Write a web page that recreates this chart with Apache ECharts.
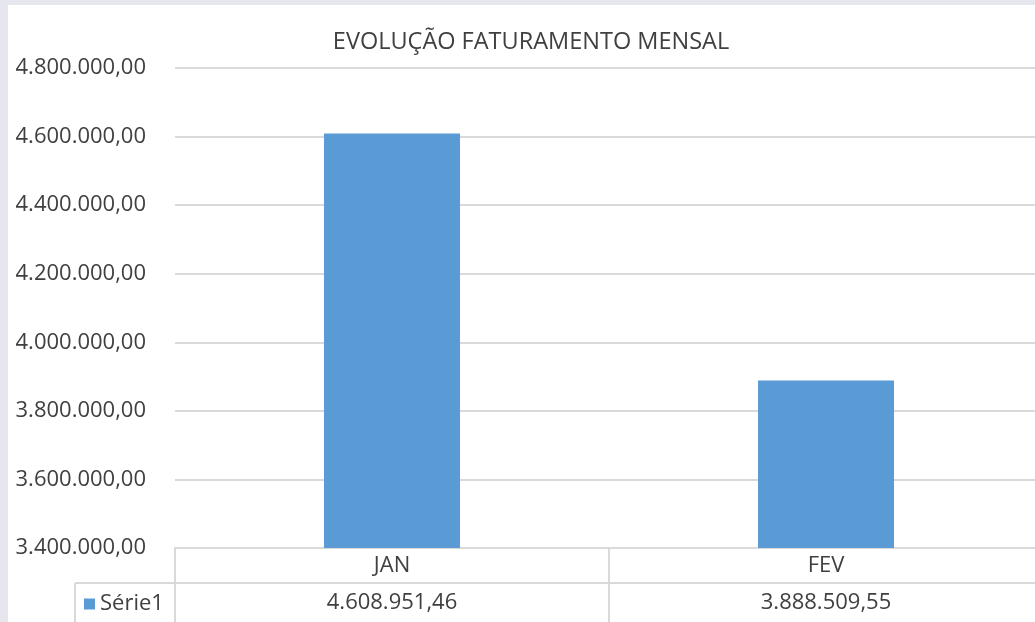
<!DOCTYPE html>
<html>
<head>
<meta charset="utf-8">
<script src="https://cdn.jsdelivr.net/npm/echarts@6/dist/echarts.min.js"></script>
<style>
  html, body { margin: 0; padding: 0; background: #e6e6ee; overflow: hidden; }
  #paper { position: absolute; left: 8px; top: 5px; right: 0; bottom: 0; background: #fff; }
  /* chart area runs a bit past the right edge, like the original screenshot */
  #chart { position: absolute; left: 0; top: 0; width: 1043px; height: 622px; }
</style>
</head>
<body>
<div id="paper"></div>
<div id="chart"></div>
<script>
const months = ['JAN', 'FEV'];
const faturamento = [4608951.46, 3888509.55];
const seriesName = 'Série1';
const title = 'EVOLUÇÃO FATURAMENTO MENSAL';

const FONT = '"Open Sans", sans-serif';
const TXT = '#404040';
const LINE = '#d9d9d9';

// 4.608.951,46
function brl(v) {
  const parts = v.toFixed(2).split('.');
  const int = parts[0].replace(/\B(?=(\d{3})+(?!\d))/g, '.');
  return int + ',' + parts[1];
}

const myChart = echarts.init(document.getElementById('chart'));

const option = {
  backgroundColor: 'transparent',
  animation: false,
  textStyle: { fontFamily: FONT },
  title: {
    text: title,
    left: 526,
    textAlign: 'center',
    top: 25,
    textStyle: { fontFamily: FONT, fontSize: 23.5, fontWeight: 'normal', color: TXT }
  },
  legend: {
    data: [seriesName],
    left: 84,
    top: 593,
    padding: 0,
    icon: 'rect',
    itemWidth: 11,
    itemHeight: 11,
    textStyle: { fontFamily: FONT, fontSize: 22, color: TXT }
  },
  grid: {
    left: 175,
    right: 0,
    top: 68,
    bottom: 74
  },
  xAxis: [
    {
      type: 'category',
      data: months,
      position: 'bottom',
      axisLine: { lineStyle: { color: LINE, width: 2 } },
      axisTick: { show: true, length: 74, lineStyle: { color: LINE, width: 2 } },
      axisLabel: { margin: 7, fontFamily: FONT, fontSize: 22, color: TXT }
    },
    {
      type: 'category',
      data: months,
      position: 'bottom',
      offset: 35,
      axisLine: { lineStyle: { color: LINE, width: 2 } },
      axisTick: { show: false },
      axisLabel: {
        margin: 9,
        fontFamily: FONT,
        fontSize: 22,
        color: TXT,
        formatter: (val, idx) => brl(faturamento[idx])
      }
    }
  ],
  yAxis: {
    type: 'value',
    min: 3400000,
    max: 4800000,
    interval: 200000,
    axisLine: { show: false },
    axisTick: { show: false },
    splitLine: { lineStyle: { color: LINE, width: 2 } },
    axisLabel: {
      margin: 29,
      fontFamily: FONT,
      fontSize: 22,
      color: TXT,
      formatter: v => brl(v)
    }
  },
  graphic: [
    {
      type: 'group',
      silent: true,
      children: [
        { type: 'line', shape: { x1: 75, y1: 583, x2: 175, y2: 583 }, style: { stroke: LINE, lineWidth: 2 } },
        { type: 'line', shape: { x1: 75, y1: 583, x2: 75, y2: 622 }, style: { stroke: LINE, lineWidth: 2 } }
      ]
    }
  ],
  series: [
    {
      name: seriesName,
      type: 'bar',
      data: faturamento,
      barWidth: 136,
      itemStyle: { color: '#5b9bd5' }
    }
  ]
};

myChart.setOption(option);
</script>
</body>
</html>
